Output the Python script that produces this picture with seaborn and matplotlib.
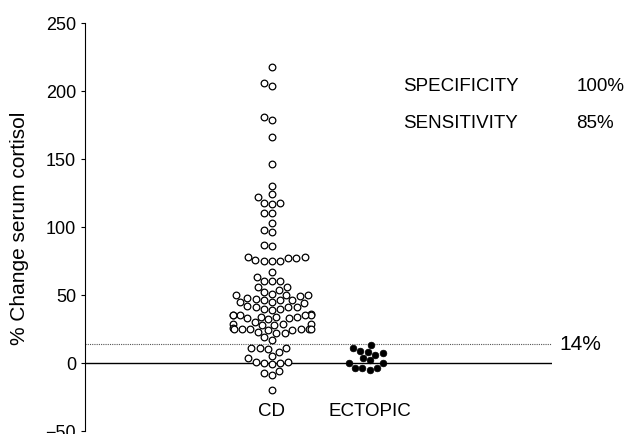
import numpy as np
import pandas as pd
import matplotlib
matplotlib.use("Agg")
import matplotlib.pyplot as plt
import seaborn as sns

# values (% change in serum cortisol)
groups = ["CD", "ECTOPIC"]
cd_values = [
    218, 206, 204, 181, 179, 166, 146, 130, 124, 122, 118, 118, 117, 110, 110,
    103, 98, 96, 87, 86,
    78, 78, 77, 77, 76, 75, 75, 75,
    67, 63, 60, 60, 60, 56, 56, 54,
    52, 51, 50, 50, 50, 49, 48, 47, 46, 46, 46, 45, 45, 44,
    42, 41, 41, 41, 40, 40, 39,
    36, 35, 35, 35, 35, 35, 34, 34, 34, 33, 33, 32,
    30, 29, 29, 29, 28, 28,
    26, 25, 25, 25, 25, 25, 25, 24, 24, 23, 22, 22,
    19, 17,
    11, 11, 11, 10, 8, 5, 4, 1, 1, 0, 0, -1, -6, -7, -9, -20,
]
ectopic_values = [13, 11, 9, 8, 7, 6, 4, 2, 0, 0, -4, -4, -4, -5]
cutoff = 14
yticks = [-50, 0, 50, 100, 150, 200, 250]
stats_labels = ["SPECIFICITY", "SENSITIVITY"]
stats_values = ["100%", "85%"]

df = pd.DataFrame({
    "group": ["CD"] * len(cd_values) + ["ECTOPIC"] * len(ectopic_values),
    "value": cd_values + ectopic_values,
})

sns.set_style("ticks")
plt.rcParams["font.family"] = ["Liberation Sans", "DejaVu Sans"]
plt.rcParams["text.color"] = "black"

fig = plt.figure(figsize=(6.33, 4.35), dpi=100)
ax = fig.add_axes([85 / 633, 3 / 435, (552 - 85) / 633, (432 - 24) / 435])

ax.axhline(0, color="black", linewidth=1.0, zorder=1)
ax.axhline(cutoff, color="#555555", linewidth=0.8, linestyle=(0, (1, 1)), zorder=1)

sns.swarmplot(data=df[df.group == "CD"], x="group", y="value", order=groups,
              color="white", edgecolor="black", linewidth=0.9, size=4.8, ax=ax,
              zorder=3)
sns.swarmplot(data=df[df.group == "ECTOPIC"], x="group", y="value", order=groups,
              color="black", edgecolor="black", linewidth=0.5, size=4.8, ax=ax,
              zorder=3)

ax.set_xlim(-1.91, 2.86)
ax.set_ylim(-50, 250)
ax.set_yticks(yticks)
ax.tick_params(axis="y", labelsize=13, length=3, width=0.8, colors="black")
ax.set_xticks([])
ax.set_xlabel("")
ax.set_ylabel("% Change serum cortisol", fontsize=15, labelpad=12, color="black")
sns.despine(ax=ax, bottom=True)
ax.spines["left"].set_linewidth(0.8)
ax.spines["left"].set_color("black")

for i, g in enumerate(groups):
    ax.text(i, -35, g, ha="center", va="center", fontsize=13.5, color="black")

for lab, val, yv in zip(stats_labels, stats_values, [203.7, 176.5]):
    ax.text(1.34, yv, lab, ha="left", va="center", fontsize=13.5, color="black")
    ax.text(3.11, yv, val, ha="left", va="center", fontsize=13.5, color="black",
            clip_on=False)

ax.text(2.94, cutoff, f"{cutoff}%", ha="left", va="center", fontsize=15,
        color="black", clip_on=False)

fig.savefig("out.png", dpi=100)
